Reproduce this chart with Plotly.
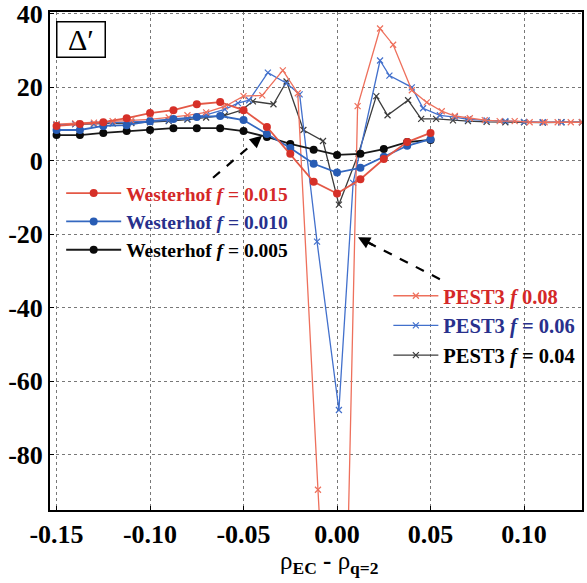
import plotly.graph_objects as go

# ---------------- data ----------------
west_x = [-0.15, -0.1375, -0.125, -0.1125, -0.1, -0.0875, -0.075, -0.0625, -0.05,
          -0.0375, -0.025, -0.0125, 0.0, 0.0125, 0.025, 0.0375, 0.05]
west_015 = [9.5, 10.0, 10.5, 11.6, 13.0, 13.8, 15.4, 16.0, 13.8, 9.2, 1.9, -5.7, -8.9, -5.0, 0.5, 5.1, 7.6]
west_010 = [8.4, 8.4, 9.5, 9.7, 10.8, 11.4, 11.9, 12.2, 11.1, 7.3, 3.5, -0.8, -3.2, -1.9, 1.1, 4.1, 5.9]
west_005 = [7.0, 7.0, 7.6, 8.1, 8.4, 8.9, 8.9, 8.9, 8.1, 6.5, 4.6, 3.0, 1.6, 1.9, 3.2, 5.1, 5.7]

pest_08_x = [-0.15, -0.14, -0.13, -0.12, -0.11, -0.10, -0.09, -0.08, -0.07, -0.06, -0.05, -0.04,
             -0.029, -0.021, -0.0102, 0.0016, 0.011, 0.023, 0.030, 0.040, 0.048, 0.056, 0.063,
             0.071, 0.079, 0.087, 0.095, 0.103, 0.111, 0.118, 0.125, 0.131]
pest_08_y = [10.0, 10.2, 10.4, 10.8, 11.0, 11.3, 11.8, 12.4, 13.2, 14.8, 17.6, 17.8,
             24.6, 18.4, -89.5, -200.0, 14.9, 36.0, 31.6, 19.2, 15.9, 13.5, 12.2,
             11.6, 11.1, 10.8, 10.8, 10.5, 10.5, 10.5, 10.5, 10.5]

pest_06_x = [-0.15, -0.14, -0.13, -0.12, -0.11, -0.10, -0.09, -0.08, -0.07, -0.06, -0.053, -0.047,
             -0.037, -0.027, -0.020, -0.0107, 0.001, 0.0086, 0.023, 0.028, 0.040, 0.046, 0.055,
             0.063, 0.07, 0.08, 0.09, 0.10, 0.11, 0.12, 0.131]
pest_06_y = [9.8, 10.0, 10.1, 10.3, 10.5, 10.7, 11.0, 11.5, 12.5, 14.0, 15.7, 16.5,
             24.0, 21.1, 18.1, -22.0, -67.8, -6.0, 27.3, 23.2, 20.0, 14.3, 12.4,
             11.9, 11.3, 11.0, 10.8, 10.6, 10.5, 10.5, 10.5]

pest_04_x = [-0.15, -0.14, -0.13, -0.12, -0.11, -0.10, -0.09, -0.08, -0.07, -0.06, -0.051, -0.045,
             -0.034, -0.027, -0.018, -0.0075, 0.001, 0.0115, 0.021, 0.027, 0.038, 0.045, 0.053,
             0.062, 0.07, 0.08, 0.09, 0.10, 0.11, 0.12, 0.131]
pest_04_y = [9.8, 10.0, 10.0, 10.2, 10.3, 10.5, 10.8, 11.2, 11.8, 12.4, 13.8, 16.2,
             15.4, 21.6, 8.4, 5.4, -11.9, 2.0, 17.6, 12.4, 16.5, 11.4, 11.4,
             11.0, 10.8, 10.6, 10.5, 10.5, 10.4, 10.5, 10.5]

x_ticks = [-0.15, -0.10, -0.05, 0.00, 0.05, 0.10]
x_tick_labels = ["-0.15", "-0.10", "-0.05", "0.00", "0.05", "0.10"]
y_ticks = [40, 20, 0, -20, -40, -60, -80]
y_tick_labels = ["40", "20", "0", "-20", "-40", "-60", "-80"]

# ---------------- style ----------------
RED_L, BLUE_L, BLACK_L = "rgb(228,88,70)", "rgb(52,104,192)", "rgb(25,25,25)"
RED_M, BLUE_M, BLACK_M = "rgb(214,48,40)", "rgb(40,92,180)", "rgb(10,10,10)"
RED_P, BLUE_P, BLACK_P = "rgb(238,112,92)", "rgb(66,112,204)", "rgb(60,60,60)"
RED_T, BLUE_T = "rgb(212,40,40)", "rgb(40,48,140)"
FONT = "Liberation Serif, Times New Roman, serif"

fig = go.Figure()

def west(y, lc, mc, name):
    fig.add_trace(go.Scatter(
        x=west_x, y=y, mode="lines+markers", name=name, legend="legend",
        line=dict(color=lc, width=1.8), marker=dict(color=mc, size=8, symbol="circle")))

def pest(x, y, lc, name):
    fig.add_trace(go.Scatter(
        x=x, y=y, mode="lines+markers", name=name, legend="legend2",
        line=dict(color=lc, width=1.3),
        marker=dict(color=lc, size=6, symbol="x-thin", line=dict(color=lc, width=1.2))))

pest(pest_04_x, pest_04_y, BLACK_P, "PEST3 <i>f</i> = 0.04")
pest(pest_06_x, pest_06_y, BLUE_P, f"<span style='color:{BLUE_T}'>PEST3 <i>f</i> = 0.06</span>")
pest(pest_08_x, pest_08_y, RED_P, f"<span style='color:{RED_T}'>PEST3 <i>f</i> 0.08</span>")
west(west_005, BLACK_L, BLACK_M, "Westerhof <i>f</i> = 0.005")
west(west_010, BLUE_L, BLUE_M, f"<span style='color:{BLUE_T}'>Westerhof <i>f</i> = 0.010</span>")
west(west_015, RED_L, RED_M, f"<span style='color:{RED_T}'>Westerhof <i>f</i> = 0.015</span>")

axis_common = dict(
    showline=True, mirror=True, linecolor="black", linewidth=2,
    showgrid=True, gridcolor="rgb(120,120,120)", griddash="dot", gridwidth=1,
    zeroline=False, ticks="inside", ticklen=4, tickcolor="black", automargin=False,
    ticklabeloverflow="allow",
    tickfont=dict(family=FONT, size=26, color="black", weight="bold"),
)

fig.update_xaxes(range=[-0.1535, 0.131], tickvals=x_ticks, ticktext=x_tick_labels, **axis_common)
fig.update_yaxes(range=[-95, 40.5], tickvals=y_ticks, ticktext=y_tick_labels, **axis_common)

# dashed arrows
arrows = [((-0.0663, -4.6), (-0.0401, 6.8)), ((0.055, -32.2), (0.0112, -20.8))]
for (tx, ty), (hx, hy) in arrows:
    fig.add_shape(type="line", x0=tx, y0=ty, x1=tx + (hx - tx) * 0.9, y1=ty + (hy - ty) * 0.9,
                  xref="x", yref="y", line=dict(color="black", width=2.2, dash="dash"))
    fig.add_annotation(x=hx, y=hy, ax=tx + (hx - tx) * 0.8, ay=ty + (hy - ty) * 0.8,
                       xref="x", yref="y", axref="x", ayref="y", text="",
                       showarrow=True, arrowhead=2, arrowsize=1.1, arrowwidth=2.2,
                       arrowcolor="black")

# Delta' box
fig.add_annotation(x=0.011, y=0.982, xref="paper", yref="paper", xanchor="left", yanchor="top",
                   text="Δ′", showarrow=False, font=dict(family=FONT, size=30, color="black"),
                   bordercolor="black", borderwidth=1.5, borderpad=1, bgcolor="white", width=45, height=32)

# axis title
fig.add_annotation(x=0.526, y=-0.07, xref="paper", yref="paper", xanchor="center", yanchor="top",
                   text="ρ<sub><b>EC</b></sub> <b>-</b> ρ<sub><b>q=2</b></sub>", showarrow=False,
                   font=dict(family=FONT, size=25, color="black"))


def legend_style(x, y, size, itemwidth):
    return dict(bgcolor="rgba(0,0,0,0)", borderwidth=0, traceorder="reversed",
                font=dict(family=FONT, size=size, color="black", weight="bold"),
                xanchor="left", yanchor="top", itemwidth=itemwidth, tracegroupgap=0,
                x=x, y=y)


fig.update_layout(
    width=587, height=583,
    margin=dict(l=50, r=5, t=12, b=73),
    paper_bgcolor="white", plot_bgcolor="white",
    showlegend=True,
    legend=legend_style(0.021, 0.675, 19.5, 55),
    legend2=legend_style(0.636, 0.47, 20.5, 45),
)

fig.write_html("out.html", config={"displayModeBar": False},
               post_script="document.body.style.margin='0';document.body.style.overflow='hidden';")
